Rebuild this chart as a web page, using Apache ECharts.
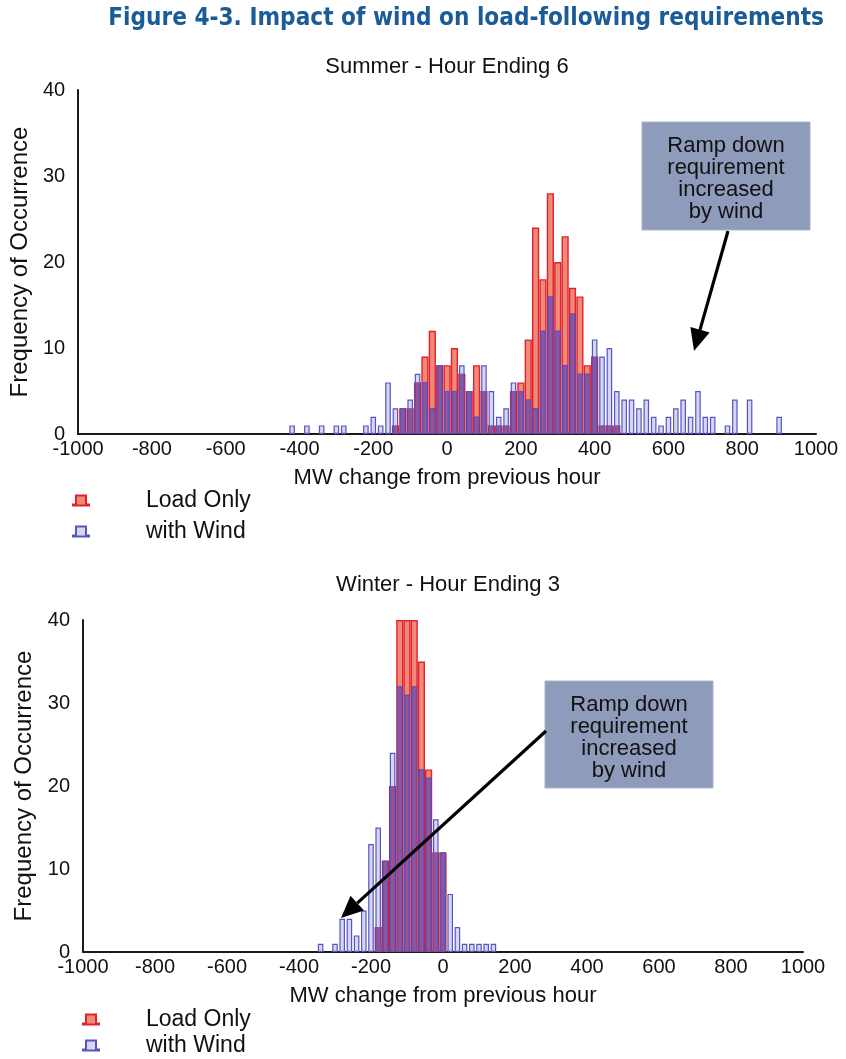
<!DOCTYPE html>
<html><head><meta charset="utf-8">
<script src="https://cdn.jsdelivr.net/npm/echarts@6/dist/echarts.min.js"></script>
<style>html,body{margin:0;padding:0;background:#fff}#c{width:846px;height:1059px}</style>
</head><body><div id="c"></div>
<script>
// ---------- DATA ----------
const summerBins = [-420,-400,-380,-360,-340,-320,-300,-280,-260,-240,-220,-200,-180,-160,-140,-120,-100,-80,-60,-40,-20,0,20,40,60,80,100,120,140,160,180,200,220,240,260,280,300,320,340,360,380,400,420,440,460,480,500,520,540,560,580,600,620,640,660,680,700,720,740,760,780,800,820,840,860,880,900];
const summerLoad = [0,0,0,0,0,0,0,0,0,0,0,0,0,0,1,3,3,6,9,12,8,8,10,7,5,8,5,1,1,1,5,6,11,24,18,28,20,23,17,16,8,9,1,1,1,0,0,0,0,0,0,0,0,0,0,0,0,0,0,0,0,0,0,0,0,0,0];
const summerWind = [1,0,1,0,1,0,1,1,0,0,1,2,1,6,3,3,4,7,6,3,8,5,5,8,5,2,8,5,2,3,6,5,4,3,12,16,12,8,14,7,7,11,9,10,5,4,4,3,4,2,1,2,3,4,2,5,2,2,0,1,4,0,4,0,0,0,2];
const winterBins = [-340,-320,-300,-280,-260,-240,-220,-200,-180,-160,-140,-120,-100,-80,-60,-40,-20,0,20,40,60,80,100,120,140];
const winterLoad = [0,0,0,0,0,0,0,0,3,11,20,40,40,40,35,22,12,12,0,0,0,0,0,0,0];
const winterWind = [1,0,1,4,4,2,5,13,15,11,24,32,31,32,22,21,16,12,7,3,1,1,1,1,1];
const xTickLabels = [-1000,-800,-600,-400,-200,0,200,400,600,800,1000];
const yTickLabels = [0,10,20,30,40];
const seriesNames = ['Load Only','with Wind'];
const noteText = 'Ramp down\nrequirement\nincreased\nby wind';

// ---------- STYLE ----------
const FONT = "'Liberation Sans', Arial, sans-serif";
const RED_FILL = '#f08a78', RED_LINE = '#e3202c';
const BLUE_FILL = 'rgba(160,160,228,0.42)', BLUE_LINE = '#5656c2';
const PURPLE = '#84216a';

const mctx = document.createElement('canvas').getContext('2d');
function tw(text, font){ mctx.font = font; return mctx.measureText(text).width; }

function pairs(bins, vals){ const out=[]; bins.forEach((b,i)=>{ if(vals[i]>0) out.push([b, vals[i]]); }); return out; }
function overlap(bins, a, b){ const out=[]; bins.forEach((x,i)=>{ const m=Math.min(a[i],b[i]); if(m>0) out.push([x,m]); }); return out; }

// figure title sizing
let tSize = 27;
const tFam = "'Liberation Sans Narrow','DejaVu Sans Condensed','Liberation Sans',Arial,sans-serif";
const figTitle = 'Figure 4-3. Impact of wind on load-following requirements';
let w0 = tw(figTitle, 'bold '+tSize+'px '+tFam);
if (w0 > 730) { tSize = tSize*716/w0; w0 = tw(figTitle, 'bold '+tSize+'px '+tFam); }
const subSize = 22;
const sub1 = 'Summer - Hour Ending 6', sub2 = 'Winter - Hour Ending 3';
const s1w = tw(sub1, subSize+'px '+FONT), s2w = tw(sub2, subSize+'px '+FONT);

const grids = [
  {left:78, top:90, width:738, height:344},
  {left:83, top:620, width:720, height:332}
];

function makeX(gi, visible){
  return {
    type:'value', gridIndex:gi, min:-1000, max:1000, interval:200, show:visible,
    axisLine:{show:true, onZero:false, lineStyle:{color:'#1a1a1a', width:2}},
    axisTick:{show:false}, splitLine:{show:false},
    axisLabel:{color:'#111', fontSize:20, fontFamily:FONT, margin:5,
      formatter:(v)=> xTickLabels.includes(v) ? String(v) : ''},
    name: visible ? 'MW change from previous hour' : '',
    nameLocation:'middle', nameGap:33,
    nameTextStyle:{color:'#111', fontSize:22, fontFamily:FONT}
  };
}
function makeY(gi){
  return {
    type:'value', gridIndex:gi, min:0, max:40, interval:10,
    axisLine:{show:true, onZero:false, lineStyle:{color:'#1a1a1a', width:2}},
    axisTick:{show:false}, splitLine:{show:false},
    axisLabel:{color:'#111', fontSize:20, fontFamily:FONT, margin:13,
      formatter:(v)=> yTickLabels.includes(v) ? String(v) : ''},
    name:'Frequency of Occurrence', nameLocation:'middle', nameGap:46,
    nameTextStyle:{color:'#111', fontSize:24, fontFamily:FONT}
  };
}

function barSeries(gi, bins, load, wind){
  const base = gi*3;
  return [
    {name:seriesNames[0], type:'bar', xAxisIndex:base, yAxisIndex:gi, barWidth:7.2,
     data:pairs(bins, load), itemStyle:{color:RED_FILL, borderColor:RED_LINE, borderWidth:1.4}, animation:false, silent:true},
    {name:'overlap'+gi, type:'bar', xAxisIndex:base+1, yAxisIndex:gi, barWidth:5.6,
     data:overlap(bins, load, wind), itemStyle:{color:PURPLE}, animation:false, silent:true},
    {name:seriesNames[1], type:'bar', xAxisIndex:base+2, yAxisIndex:gi, barWidth:5.6,
     data:pairs(bins, wind), itemStyle:{color:BLUE_FILL, borderColor:BLUE_LINE, borderWidth:1.2}, animation:false, silent:true}
  ];
}

function arrow(x1,y1,x2,y2){
  const a=Math.atan2(y2-y1,x2-x1), L=22, W=10;
  const bx=x2-L*Math.cos(a), by=y2-L*Math.sin(a);
  const px=-Math.sin(a)*W, py=Math.cos(a)*W;
  return [
    {type:'line', shape:{x1:x1,y1:y1,x2:bx,y2:by}, style:{stroke:'#000', lineWidth:3.2}, z:100},
    {type:'polygon', shape:{points:[[x2,y2],[bx+px,by+py],[bx-px,by-py]]}, style:{fill:'#000'}, z:100}
  ];
}
function note(x,y,w,h){
  return [
    {type:'rect', shape:{x:x,y:y,width:w,height:h}, style:{fill:'#8e9bbb', stroke:'#aab3cc', lineWidth:1}, z:90},
    {type:'text', x:x+w/2, y:y+h/2+3, style:{text:noteText, align:'center', verticalAlign:'middle',
      fontSize:22, fontFamily:FONT, lineHeight:22, fill:'#111'}, z:95}
  ];
}

const legendIcon = 'path://M3,0 L13,0 L13,9 L16,9 L16,10 L0,10 L0,9 L3,9 Z';

const option = {
  backgroundColor:'#fff',
  animation:false,
  title:[
    {text:figTitle, left:824-w0, top:7, padding:0,
     textStyle:{color:'#1b5c96', fontWeight:'bold', fontSize:tSize, fontFamily:tFam}},
    {text:sub1, left:447-s1w/2, top:56, padding:0, textStyle:{color:'#111', fontWeight:'normal', fontSize:subSize, fontFamily:FONT}},
    {text:sub2, left:448-s2w/2, top:574, padding:0, textStyle:{color:'#111', fontWeight:'normal', fontSize:subSize, fontFamily:FONT}}
  ],
  legend:[
    {data:seriesNames, orient:'vertical', left:72, top:489, padding:0, itemWidth:16, itemHeight:11, itemGap:8, icon:legendIcon,
     textStyle:{color:'#111', fontSize:23, fontFamily:FONT, padding:[0,0,0,52]}, selectedMode:false},
    {data:seriesNames, orient:'vertical', left:82, top:1008, padding:0, itemWidth:16, itemHeight:11, itemGap:3, icon:legendIcon,
     textStyle:{color:'#111', fontSize:23, fontFamily:FONT, padding:[0,0,0,42]}, selectedMode:false}
  ],
  grid:grids,
  xAxis:[makeX(0,true), makeX(0,false), makeX(0,false), makeX(1,true), makeX(1,false), makeX(1,false)],
  yAxis:[makeY(0), makeY(1)],
  series:[].concat(barSeries(0, summerBins, summerLoad, summerWind), barSeries(1, winterBins, winterLoad, winterWind)),
  graphic:[].concat(
    note(642,122,168,108), arrow(728,231,694,351),
    note(545,681,168,107), arrow(546,731,341,918)
  )
};
const chart = echarts.init(document.getElementById('c'), null, {renderer:'canvas'});
chart.setOption(option);
</script>
</body></html>
